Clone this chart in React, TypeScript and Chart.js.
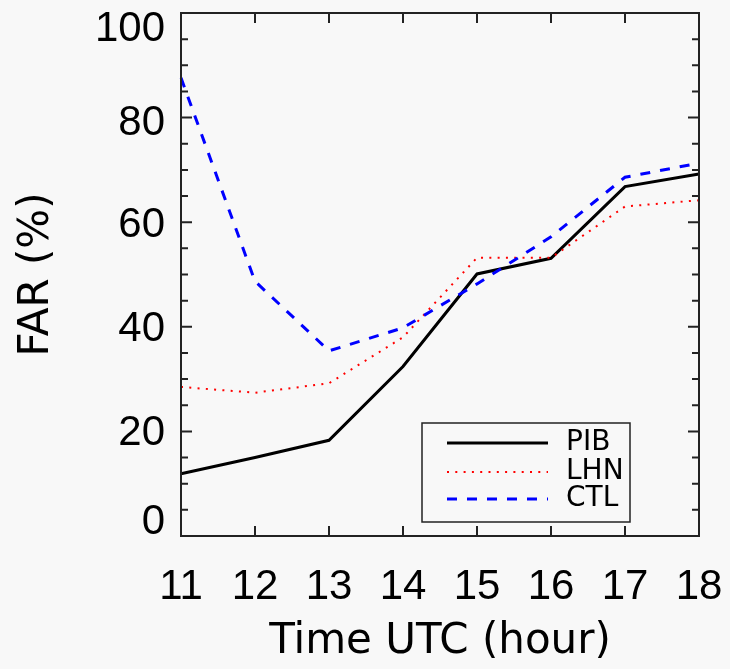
import { useEffect, useRef } from 'react';
import { Chart, registerables } from 'chart.js';

Chart.register(...registerables);

const hours = ['11', '12', '13', '14', '15', '16', '17', '18'];
const pibValues = [11.9, 15.0, 18.3, 32.4, 50.1, 53.1, 66.8, 69.2];
const lhnValues = [28.5, 27.4, 29.2, 38.0, 53.2, 53.2, 63.0, 64.2];
const ctlValues = [87.6, 48.7, 35.4, 39.8, 48.2, 57.2, 68.6, 71.3];
const seriesNames = ['PIB', 'LHN', 'CTL'];
const xTitle = 'Time UTC (hour)';
const yTitle = 'FAR (%)';

const BG = '#f8f8f8';
const TICK_FONT = 'Liberation Sans';
const TITLE_FONT = 'DejaVu Sans';
// vertical nudge of y tick labels (px, + = down)
const yLabelShift: Record<number, number> = { 100: 16, 80: 6, 60: 3, 40: 3, 20: 2, 0: -14 };

const bgPlugin = {
  id: 'bgFill',
  beforeDraw(chart: any) {
    const { ctx, width, height } = chart;
    ctx.save();
    ctx.fillStyle = BG;
    ctx.fillRect(0, 0, width, height);
    ctx.restore();
  },
};

const framePlugin = {
  id: 'frameTicks',
  afterDatasetsDraw(chart: any) {
    const { ctx, chartArea, scales } = chart;
    const { left, right, top, bottom } = chartArea;
    const x = scales.x;
    const y = scales.y;
    ctx.save();
    ctx.strokeStyle = '#222';
    ctx.lineWidth = 2;
    ctx.strokeRect(left, top, right - left, bottom - top);
    ctx.beginPath();
    x.ticks.forEach((_t: any, i: number) => {
      const px = x.getPixelForTick(i);
      ctx.moveTo(px, bottom);
      ctx.lineTo(px, bottom - 10);
      ctx.moveTo(px, top);
      ctx.lineTo(px, top + 10);
    });
    y.ticks.forEach((t: any, i: number) => {
      const py = y.getPixelForTick(i);
      const len = t.value % 20 === 0 ? 11 : 7;
      ctx.moveTo(left, py);
      ctx.lineTo(left + len, py);
      ctx.moveTo(right, py);
      ctx.lineTo(right - len, py);
    });
    ctx.stroke();
    ctx.restore();
  },
};

const legendPlugin = {
  id: 'boxLegend',
  afterDraw(chart: any) {
    const { ctx, chartArea } = chart;
    const bx = chartArea.right - 277;
    const by = chartArea.bottom - 113;
    const bw = 208;
    const bh = 99;
    ctx.save();
    ctx.strokeStyle = '#222';
    ctx.lineWidth = 1.5;
    ctx.strokeRect(bx, by, bw, bh);
    const rows = [20, 49, 76];
    chart.data.datasets.forEach((ds: any, i: number) => {
      const ry = by + rows[i];
      ctx.beginPath();
      ctx.strokeStyle = ds.borderColor;
      ctx.lineWidth = ds.borderWidth;
      ctx.setLineDash(ds.borderDash || []);
      ctx.moveTo(bx + 25, ry);
      ctx.lineTo(bx + 126, ry);
      ctx.stroke();
      ctx.setLineDash([]);
      ctx.fillStyle = '#000';
      ctx.font = `28px "${TITLE_FONT}"`;
      ctx.textBaseline = 'middle';
      ctx.textAlign = 'left';
      ctx.fillText(ds.label, bx + 144, ry);
    });
    ctx.restore();
  },
};

export default function App() {
  const ref = useRef<HTMLCanvasElement | null>(null);

  useEffect(() => {
    document.body.style.margin = '0';
    document.body.style.background = BG;
    if (!ref.current) return;
    const chart = new Chart(ref.current, {
      type: 'line',
      data: {
        labels: hours,
        datasets: [
          {
            label: seriesNames[0],
            data: pibValues,
            borderColor: '#000000',
            borderWidth: 3,
            pointRadius: 0,
            tension: 0,
            order: 2,
          },
          {
            label: seriesNames[1],
            data: lhnValues,
            borderColor: '#ff0000',
            borderWidth: 2,
            borderDash: [2, 6.3],
            pointRadius: 0,
            tension: 0,
            order: 1,
          },
          {
            label: seriesNames[2],
            data: ctlValues,
            borderColor: '#0000ff',
            borderWidth: 3,
            borderDash: [10, 10],
            pointRadius: 0,
            tension: 0,
            order: 0,
          },
        ] as any,
      },
      options: {
        animation: false,
        responsive: false,
        maintainAspectRatio: false,
        layout: { padding: 0 },
        plugins: {
          legend: { display: false },
          tooltip: { enabled: false },
        },
        scales: {
          x: {
            type: 'category',
            offset: false,
            grid: { display: false, drawTicks: false },
            border: { display: false },
            ticks: {
              color: '#000',
              font: { family: TICK_FONT, size: 42 },
              padding: 26,
              maxRotation: 0,
              autoSkip: false,
            },
            title: {
              display: true,
              text: xTitle,
              color: '#000',
              font: { family: TITLE_FONT, size: 42 },
              padding: { top: 0, bottom: 2 },
            },
            afterFit(s: any) {
              s.height = 133;
              s.paddingLeft = 0;
              s.paddingRight = 31;
            },
          },
          y: {
            min: 0,
            max: 100,
            grid: { display: false, drawTicks: false },
            border: { display: false },
            ticks: {
              stepSize: 5,
              autoSkip: false,
              color: '#000',
              padding: 16,
              font: (c: any) => {
                const v = c.tick ? c.tick.value : 0;
                const off = yLabelShift[v] || 0;
                return {
                  family: TICK_FONT,
                  size: 42,
                  lineHeight: off ? `${Math.abs(off) * 2}px` : 1.2,
                };
              },
              callback: (value: any) => {
                const v = Number(value);
                if (v % 20 !== 0) return '';
                const off = yLabelShift[v] || 0;
                if (off > 0) return ['', String(v)];
                if (off < 0) return [String(v), ''];
                return String(v);
              },
            },
            title: {
              display: true,
              text: yTitle,
              color: '#000',
              font: { family: TITLE_FONT, size: 42 },
              padding: { top: 12, bottom: 0 },
            },
            afterFit(s: any) {
              s.width = 181;
              s.paddingTop = 13;
              s.paddingBottom = 0;
            },
          },
        },
      } as any,
      plugins: [bgPlugin, framePlugin, legendPlugin],
    });
    return () => chart.destroy();
  }, []);

  return (
    <div style={{ width: 730, height: 669 }}>
      <canvas ref={ref} width={730} height={669} style={{ display: 'block' }} />
    </div>
  );
}
